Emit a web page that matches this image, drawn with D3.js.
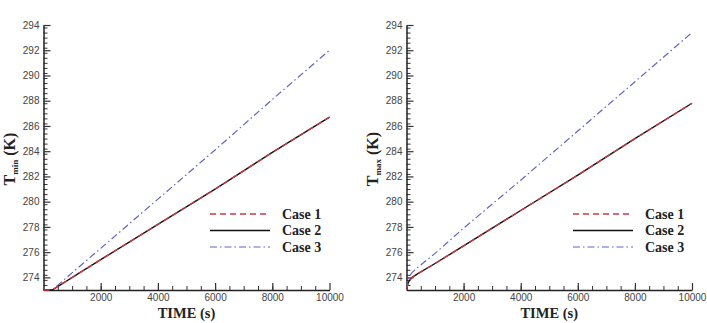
<!DOCTYPE html>
<html lang="en">
<head>
    <meta charset="UTF-8">
    <title>Tmin / Tmax vs time</title>
    <script src="https://cdn.jsdelivr.net/npm/d3@7"></script>
    <style>
        body { margin: 0; background: #fff; }
        svg { display: block; }
        .tick text { font-family: "Liberation Sans", Arial, sans-serif; font-size: 10px; fill: #444; }
        .axis-title, .legend text { font-family: "Liberation Serif", "Times New Roman", serif; font-weight: bold; fill: #222; }
    </style>
</head>
<body>
<svg id="chart" width="707" height="323"></svg>
<script>
    // series
    const caseNames = ["Case 1", "Case 2", "Case 3"];

    // left panel: T_min
    const timeMin = [0, 300, 2000, 4000, 6000, 8000, 10000];
    const case1Min = [273, 273, 275.4, 278.2, 281.0, 283.9, 286.7];
    const case2Min = [273, 273, 275.4, 278.2, 281.0, 283.9, 286.7];
    const case3Min = [273, 273, 276.3, 280.2, 284.1, 288.1, 292.0];

    // right panel: T_max
    const timeMax = [0, 50, 100, 200, 400, 1000, 2000, 4000, 6000, 8000, 10000];
    const case1Max = [273.1, 273.5, 273.75, 274.0, 274.3, 275.1, 276.5, 279.3, 282.1, 285.0, 287.8];
    const case2Max = [273.1, 273.5, 273.75, 274.0, 274.3, 275.1, 276.5, 279.3, 282.1, 285.0, 287.8];
    const case3Max = [273.1, 273.8, 274.1, 274.4, 274.8, 275.9, 277.9, 281.7, 285.6, 289.5, 293.4];

    const xTicks = [2000, 4000, 6000, 8000, 10000];
    const yTicks = [274, 276, 278, 280, 282, 284, 286, 288, 290, 292, 294];

    const styles = [
        { color: "#cc3a44", width: 1.4, dash: "6,4" },
        { color: "#111", width: 1.4, dash: null },
        { color: "#6464c4", width: 1.2, dash: "7,3,1.5,3" }
    ];

    const panels = [
        { left: 43.5, right: 329.5, sub: "min", time: timeMin, series: [case1Min, case2Min, case3Min], legendX: 210 },
        { left: 406.5, right: 692, sub: "max", time: timeMax, series: [case1Max, case2Max, case3Max], legendX: 573 }
    ];

    const plotTop = 25, plotBottom = 290;
    const svg = d3.select("#chart");

    panels.forEach(p => {
        const g = svg.append("g");
        const x = d3.scaleLinear().domain([0, 10000]).range([p.left, p.right]);
        const y = d3.scaleLinear().domain([273, 294]).range([plotBottom, plotTop]);

        // minor ticks
        g.append("g")
            .attr("transform", `translate(0,${plotBottom})`)
            .call(d3.axisBottom(x).tickValues(d3.range(500, 10000, 500)).tickSize(-4).tickFormat(""))
            .call(s => s.select(".domain").remove())
            .call(s => s.selectAll("line").attr("stroke", "#333"));
        g.append("g")
            .attr("transform", `translate(${p.left},0)`)
            .call(d3.axisLeft(y).tickValues(d3.range(273.4, 294, 0.4)).tickSize(-4).tickFormat(""))
            .call(s => s.select(".domain").remove())
            .call(s => s.selectAll("line").attr("stroke", "#333"));

        // major axes
        g.append("g")
            .attr("transform", `translate(0,${plotBottom})`)
            .call(d3.axisBottom(x).tickValues(xTicks).tickFormat(d3.format("d"))
                .tickSizeInner(-7).tickSizeOuter(0).tickPadding(4))
            .call(s => s.select(".domain").attr("stroke", "#222").attr("stroke-width", 1.5))
            .call(s => s.selectAll("line").attr("stroke", "#333").attr("stroke-width", 1.2));
        g.append("g")
            .attr("transform", `translate(${p.left},0)`)
            .call(d3.axisLeft(y).tickValues(yTicks).tickFormat(d3.format("d"))
                .tickSizeInner(-7).tickSizeOuter(0).tickPadding(4))
            .call(s => s.select(".domain").attr("stroke", "#222").attr("stroke-width", 1.5))
            .call(s => s.selectAll("line").attr("stroke", "#333").attr("stroke-width", 1.2));

        // lines: case 2 under the red dashes of case 1
        const line = d3.line().x(d => x(d[0])).y(d => y(d[1]));
        [2, 1, 0].forEach(i => {
            const pts = p.time.map((t, j) => [t, p.series[i][j]]);
            g.append("path")
                .datum(pts)
                .attr("fill", "none")
                .attr("stroke", styles[i].color)
                .attr("stroke-width", styles[i].width)
                .attr("stroke-dasharray", styles[i].dash)
                .attr("d", line);
        });

        // axis titles
        g.append("text")
            .attr("class", "axis-title")
            .attr("x", (p.left + p.right) / 2)
            .attr("y", 318)
            .attr("text-anchor", "middle")
            .attr("font-size", 14.5)
            .text("TIME (s)");

        const yt = g.append("text")
            .attr("class", "axis-title")
            .attr("transform", `translate(${p.left - 29},159) rotate(-90)`)
            .attr("text-anchor", "middle")
            .attr("font-size", 16);
        yt.append("tspan").text("T");
        yt.append("tspan").attr("font-size", 9).attr("dy", 3.5).text(p.sub);
        yt.append("tspan").attr("dy", -3.5).text(" (K)");

        // legend
        const leg = g.append("g").attr("class", "legend");
        caseNames.forEach((name, i) => {
            const ly = 214 + i * 16.5;
            leg.append("line")
                .attr("x1", p.legendX).attr("x2", p.legendX + 60)
                .attr("y1", ly).attr("y2", ly)
                .attr("stroke", styles[i].color)
                .attr("stroke-width", styles[i].width)
                .attr("stroke-dasharray", styles[i].dash);
            leg.append("text")
                .attr("x", p.legendX + 72)
                .attr("y", ly + 4.5)
                .attr("font-size", 14)
                .text(name);
        });
    });
</script>
</body>
</html>
